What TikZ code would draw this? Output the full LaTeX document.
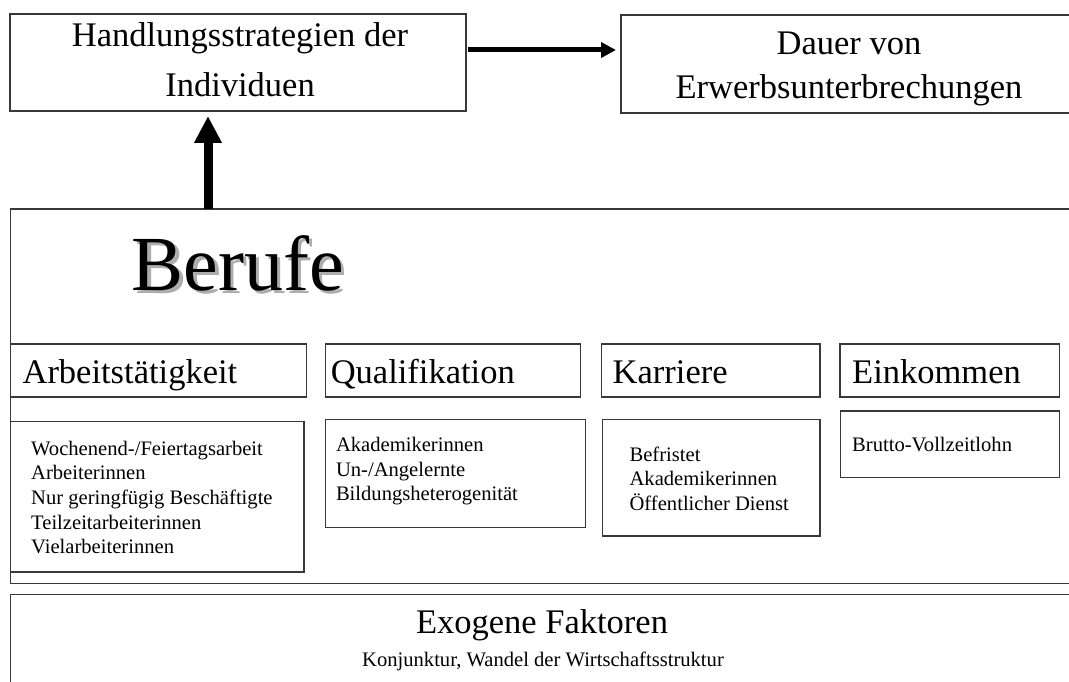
\documentclass[tikz,border=0pt]{standalone}
\usepackage{fontspec}
\setmainfont{Liberation Serif}
\usetikzlibrary{arrows.meta}
\newcommand{\shadowtext}[1]{\rlap{\raisebox{-3.5pt}{\hspace{3.3pt}\textcolor{black!32}{#1}}}#1}
\begin{document}
\begin{tikzpicture}[x=1pt,y=-1pt,
  boxframe/.style={draw=black!78, line width=1.1pt, inner sep=0pt, outer sep=0pt, anchor=north west},
  bigtxt/.style={font=\fontsize{34.5}{40}\selectfont, inner sep=0pt, text=black},
  hdtxt/.style={bigtxt, anchor=base west},
  smalltxt/.style={font=\fontsize{20.6}{24}\selectfont, inner sep=0pt, anchor=base west, text=black},
  harrow/.style={line width=5pt, -{Triangle[length=15pt,width=15pt]}, shorten <=2pt, shorten >=5pt},
  varrow/.style={line width=9pt, -{Triangle[length=27pt,width=26pt]}, shorten >=5pt}
]
\useasboundingbox (0,0) rectangle (1069,682);
\clip (0,0) rectangle (1069,682);
\fill[white] (0,0) rectangle (1069,682);

% top boxes
\node[boxframe, minimum width=456pt, minimum height=97pt] (H) at (10,14) {};
\node[boxframe, minimum width=456pt, minimum height=98pt] (D) at (621,15) {};
\node[bigtxt, anchor=base] (h1) at (240,47) {Handlungsstrategien der};
\node[bigtxt, anchor=base] (h2) at (240,97) {Individuen};
\node[bigtxt, anchor=base] (d1) at (849,55) {Dauer von};
\node[bigtxt, anchor=base] (d2) at (849,99) {Erwerbsunterbrechungen};

% Berufe frame
\node[boxframe, minimum width=1065pt, minimum height=374.5pt] (B) at (10.5,209) {};
\node[font=\fontsize{78}{80}\selectfont, inner sep=0pt, anchor=base west, text=black] (bt) at (131.5,290) {\shadowtext{Berufe}};

% headers
\node[boxframe, minimum width=296pt, minimum height=53pt] (hA) at (10.5,344) {};
\node[boxframe, minimum width=255pt, minimum height=53pt] (hQ) at (325.5,344) {};
\node[boxframe, minimum width=218.3pt, minimum height=53pt] (hK) at (601.7,344) {};
\node[boxframe, minimum width=219.5pt, minimum height=53pt] (hE) at (840,344) {};
\node[hdtxt] (tA) at (22.4,383) {Arbeitstätigkeit};
\node[hdtxt] (tQ) at (330.6,383) {Qualifikation};
\node[hdtxt] (tK) at (612.5,383) {Karriere};
\node[hdtxt] (tE) at (852,383) {Einkommen};

% detail boxes
\node[boxframe, minimum width=293.5pt, minimum height=150.3pt] (dA) at (10.5,421.7) {};
\node[boxframe, minimum width=260pt, minimum height=108.4pt] (dQ) at (325.5,419.3) {};
\node[boxframe, minimum width=217.6pt, minimum height=116.7pt] (dK) at (602.4,419.3) {};
\node[boxframe, minimum width=219.2pt, minimum height=66.3pt] (dE) at (840.3,411) {};

\node[smalltxt] (a1) at (31,455) {Wochenend-/Feiertagsarbeit};
\node[smalltxt] (a2) at (31,479.7) {Arbeiterinnen};
\node[smalltxt] (a3) at (31,504.4) {Nur geringfügig Beschäftigte};
\node[smalltxt] (a4) at (31,529.1) {Teilzeitarbeiterinnen};
\node[smalltxt] (a5) at (31,553.8) {Vielarbeiterinnen};

\node[smalltxt] (q1) at (335.8,451.7) {Akademikerinnen};
\node[smalltxt] (q2) at (335.8,476.2) {Un-/Angelernte};
\node[smalltxt] (q3) at (335.8,500.7) {Bildungsheterogenität};

\node[smalltxt] (k1) at (629.4,461.2) {Befristet};
\node[smalltxt] (k2) at (629.4,485.9) {Akademikerinnen};
\node[smalltxt] (k3) at (629.4,510.6) {Öffentlicher Dienst};

\node[smalltxt] (e1) at (852,451.7) {Brutto-Vollzeitlohn};

% exogenous factors
\node[boxframe, minimum width=1065pt, minimum height=120pt] (X) at (10.5,594.5) {};
\node[bigtxt, anchor=base] (x1) at (542,633) {Exogene Faktoren};
\node[smalltxt, anchor=base] (x2) at (543,666.7) {Konjunktur, Wandel der Wirtschaftsstruktur};

% arrows
\coordinate (ay) at (0,50);
\coordinate (ax) at (208,0);
\draw[harrow] (H.east |- ay) -- (D.west |- ay);
\draw[varrow] (ax |- B.north) -- (ax |- H.south);
\end{tikzpicture}
\end{document}
